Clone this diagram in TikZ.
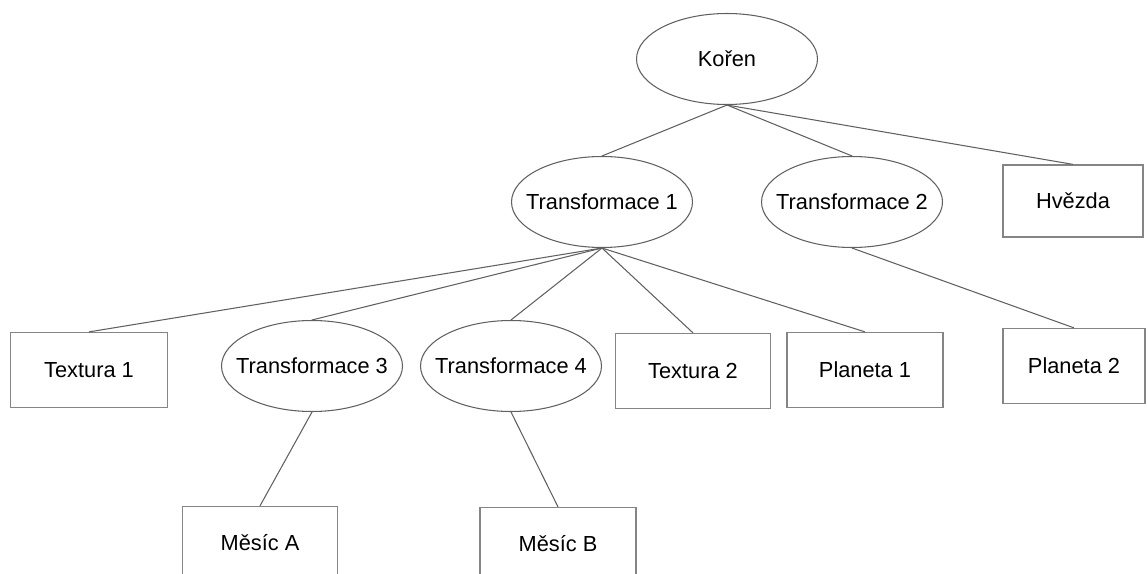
\documentclass[tikz,border=0pt]{standalone}
\usepackage{fontspec}
\setmainfont{Liberation Sans}
\usetikzlibrary{shapes.geometric}
\definecolor{cara}{HTML}{606060}
\definecolor{ramecek}{HTML}{858585}
\tikzset{
  uzel/.style={ellipse,draw=cara,line width=0.6pt,inner xsep=-10pt,inner ysep=0pt,
    minimum width=3.62cm,minimum height=1.82cm,font=\fontsize{12.4}{14}\selectfont},
  list/.style={rectangle,draw=ramecek,line width=0.7pt,minimum width=3.1cm,minimum height=1.5cm,
    font=\fontsize{12.4}{14}\selectfont},
  hrana/.style={draw=cara,line width=0.6pt}
}
\begin{document}
\begin{tikzpicture}[x=0.02cm,y=-0.02cm]
\useasboundingbox (0,0) rectangle (1148,574);
\clip (0,0) rectangle (1148,574);
%Uzly stromu
\node[uzel] (koren) at (727,59) {Kořen};
\node[uzel] (t1) at (602,202) {Transformace 1};
\node[uzel] (t2) at (852,202) {Transformace 2};
\node[list,minimum width=2.8cm,minimum height=1.44cm] (hvezda) at (1073,201) {Hvězda};
\node[list,minimum width=3.14cm] (textura1) at (89,370) {Textura 1};
\node[uzel] (t3) at (312,366) {Transformace 3};
\node[uzel] (t4) at (511,366) {Transformace 4};
\node[list] (textura2) at (693,371) {Textura 2};
\node[list,minimum width=3.12cm] (planeta1) at (865,370) {Planeta 1};
\node[list,minimum width=2.84cm] (planeta2) at (1074,366) {Planeta 2};
\node[list,minimum height=1.46cm] (mesicA) at (260,543) {Měsíc A};
\node[list,minimum width=3.12cm,minimum height=1.46cm] (mesicB) at (558,544) {Měsíc B};
%Hrany
\foreach \a/\b in {koren/t1,koren/t2,koren/hvezda,t1/textura1,t1/t3,t1/t4,t1/textura2,t1/planeta1,t2/planeta2,t3/mesicA,t4/mesicB}
  \draw[hrana] (\a.south) -- (\b.north);
\end{tikzpicture}
\end{document}
